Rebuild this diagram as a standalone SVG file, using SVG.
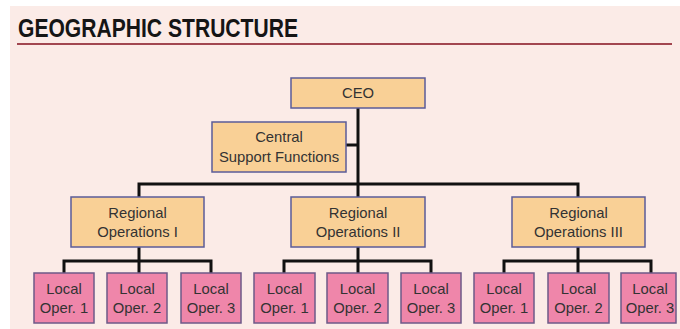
<svg xmlns="http://www.w3.org/2000/svg" width="680" height="329" viewBox="0 0 680 329">
  <style>
    .title { font-family: "Liberation Sans", Arial, sans-serif; font-weight: bold; font-size: 26px; fill: #151515; }
    .lbl { font-family: "Liberation Sans", Arial, sans-serif; font-size: 14.8px; fill: #333333; text-anchor: middle; }
    .exec { fill: #f9d096; stroke: #5b5c99; stroke-width: 1.5; }
    .local { fill: #ef86aa; stroke: #6e5a88; stroke-width: 1.5; }
    .wire { fill: none; stroke: #111111; stroke-width: 3; }
  </style>

  <!-- page background -->
  <rect x="0" y="0" width="680" height="329" fill="#ffffff"/>
  <rect x="10" y="6" width="670" height="323" fill="#fbebe7"/>

  <!-- heading -->
  <text class="title" x="18" y="37" textLength="280" lengthAdjust="spacingAndGlyphs">GEOGRAPHIC STRUCTURE</text>
  <line x1="17" y1="44" x2="672" y2="44" stroke="#a24650" stroke-width="2"/>

  <!-- connectors -->
  <g id="connectors" class="wire">
    <path d="M358 108 V197"/>
    <path d="M346 145 H358"/>
    <path d="M139 197 V184 H578 V197"/>
    <path d="M139 247 V273 M64 273 V261 H211 V273"/>
    <path d="M358 247 V273 M284 273 V261 H431 V273"/>
    <path d="M578 247 V273 M504 273 V261 H651 V273"/>
  </g>

  <!-- top level -->
  <g id="ceo">
    <rect class="exec" x="291" y="78" width="134" height="30"/>
    <text class="lbl" x="358" y="98">CEO</text>
  </g>
  <g id="central-support">
    <rect class="exec" x="212" y="122" width="134" height="50"/>
    <text class="lbl" x="279" y="142">Central</text>
    <text class="lbl" x="279" y="162">Support Functions</text>
  </g>

  <!-- regional level -->
  <g id="regional-1">
    <rect class="exec" x="71" y="197" width="133" height="50"/>
    <text class="lbl" x="137.5" y="218">Regional</text>
    <text class="lbl" x="137.5" y="237">Operations I</text>
  </g>
  <g id="regional-2">
    <rect class="exec" x="291" y="197" width="134" height="50"/>
    <text class="lbl" x="358" y="218">Regional</text>
    <text class="lbl" x="358" y="237">Operations II</text>
  </g>
  <g id="regional-3">
    <rect class="exec" x="512" y="197" width="133" height="50"/>
    <text class="lbl" x="578.5" y="218">Regional</text>
    <text class="lbl" x="578.5" y="237">Operations III</text>
  </g>

  <!-- local level, region I -->
  <g id="local-1-1">
    <rect class="local" x="34" y="273" width="60" height="50"/>
    <text class="lbl" x="64" y="294">Local</text>
    <text class="lbl" x="64" y="313">Oper. 1</text>
  </g>
  <g id="local-1-2">
    <rect class="local" x="107" y="273" width="60" height="50"/>
    <text class="lbl" x="137" y="294">Local</text>
    <text class="lbl" x="137" y="313">Oper. 2</text>
  </g>
  <g id="local-1-3">
    <rect class="local" x="181" y="273" width="60" height="50"/>
    <text class="lbl" x="211" y="294">Local</text>
    <text class="lbl" x="211" y="313">Oper. 3</text>
  </g>

  <!-- local level, region II -->
  <g id="local-2-1">
    <rect class="local" x="254" y="273" width="61" height="50"/>
    <text class="lbl" x="284.5" y="294">Local</text>
    <text class="lbl" x="284.5" y="313">Oper. 1</text>
  </g>
  <g id="local-2-2">
    <rect class="local" x="327" y="273" width="61" height="50"/>
    <text class="lbl" x="357.5" y="294">Local</text>
    <text class="lbl" x="357.5" y="313">Oper. 2</text>
  </g>
  <g id="local-2-3">
    <rect class="local" x="401" y="273" width="60" height="50"/>
    <text class="lbl" x="431" y="294">Local</text>
    <text class="lbl" x="431" y="313">Oper. 3</text>
  </g>

  <!-- local level, region III -->
  <g id="local-3-1">
    <rect class="local" x="474" y="273" width="60" height="50"/>
    <text class="lbl" x="504" y="294">Local</text>
    <text class="lbl" x="504" y="313">Oper. 1</text>
  </g>
  <g id="local-3-2">
    <rect class="local" x="548" y="273" width="61" height="50"/>
    <text class="lbl" x="578.5" y="294">Local</text>
    <text class="lbl" x="578.5" y="313">Oper. 2</text>
  </g>
  <g id="local-3-3">
    <rect class="local" x="621" y="273" width="55" height="50"/>
    <text class="lbl" x="650" y="294">Local</text>
    <text class="lbl" x="650" y="313">Oper. 3</text>
  </g>
</svg>
